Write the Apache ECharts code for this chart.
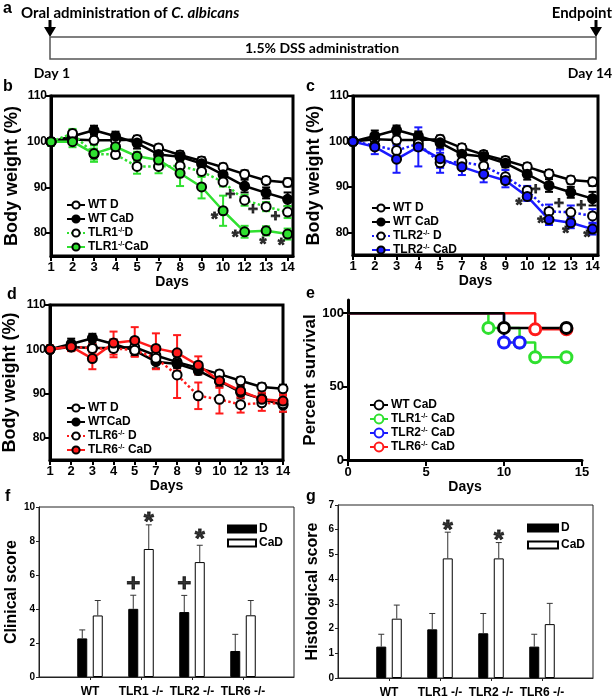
<!DOCTYPE html>
<html>
<head>
<meta charset="utf-8">
<script src="https://cdn.jsdelivr.net/npm/echarts@6/dist/echarts.min.js"></script>
<style>
  html, body { margin: 0; padding: 0; background: #fff; }
  #chart { width: 614px; height: 699px; }
</style>
</head>
<body>
<div id="chart"></div>
<script>
// body weight, days on x (b, c, d)
const days = [1, 2, 3, 4, 5, 7, 8, 9, 10, 12, 13, 14]
const wtD = [100, 100.5, 100.3, 100.3, 100.5, 98.6, 97.1, 95.8, 94.4, 92.9, 91.5, 91.1]
const wtDErr = [0.8, 0.8, 0.8, 0.8, 0.8, 0.8, 0.8, 0.8, 0.8, 0.8, 0.8, 0.9]
const wtCaD = [100, 101.2, 102.5, 101.2, 99.7, 97.2, 96.7, 95.2, 92.8, 90.3, 88.8, 87.4]
const wtCaDErr = [0.8, 1.2, 1.0, 1.0, 1.2, 1.5, 0.9, 0.9, 1.2, 1.4, 1.2, 1.5]
const tlr1D = [100, 101.8, 97.3, 97.2, 94.6, 94.6, 94.7, 93.5, 91.2, 87.2, 85.8, 84.6]
const tlr1DErr = [0.8, 1.0, 1.2, 0.8, 1.6, 1.5, 1.5, 1.2, 1.0, 1.2, 1.0, 1.3]
const tlr1CaD = [100, 100.0, 97.4, 98.9, 96.8, 96.0, 93.1, 90.1, 84.9, 80.3, 80.5, 79.8]
const tlr1CaDErr = [0.8, 1.2, 1.8, 1.0, 1.0, 1.5, 2.8, 2.5, 3.3, 1.3, 1.0, 1.2]
const tlr2D = [100, 99.1, 98.0, 99.5, 95.3, 95.5, 94.6, 92.2, 89.2, 84.6, 84.4, 83.6]
const tlr2DErr = [0.8, 1.0, 2.0, 1.5, 2.2, 1.5, 1.5, 1.5, 1.0, 1.5, 1.5, 1.5]
const tlr2CaD = [100, 98.8, 96.1, 98.8, 96.2, 94.4, 92.8, 91.4, 87.9, 82.8, 82.1, 80.7]
const tlr2CaDErr = [0.8, 1.6, 3.0, 4.3, 2.0, 1.8, 1.8, 1.5, 1.0, 1.2, 1.2, 1.2]
const tlr6D = [100, 100.6, 100.2, 100.2, 99.8, 98.0, 94.2, 89.5, 88.7, 87.5, 87.9, 87.7]
const tlr6DErr = [0.8, 1.0, 1.0, 2.0, 1.5, 2.5, 5.2, 3.0, 3.2, 1.8, 1.8, 1.8]
const tlr6CaD = [100, 100.6, 97.9, 101.4, 102.0, 100.2, 99.2, 96.4, 92.9, 90.6, 88.7, 88.3]
const tlr6CaDErr = [0.8, 1.0, 2.4, 2.6, 3.0, 3.4, 4.0, 2.0, 1.6, 1.5, 1.5, 1.5]
const weightTicks = [80, 90, 100, 110]

// significance marks, [day index, body weight]
const bStars = [[7.6, 83.8], [8.56, 79.8], [9.85, 78.3], [10.7, 78.0]]
const bPlus = [[8.33, 88.5], [9.39, 85.2], [10.43, 83.6]]
const cStars = [[7.62, 86.7], [8.62, 82.8], [9.77, 80.5], [10.74, 79.6]]
const cPlus = [[8.39, 89.5], [9.46, 86.4], [10.48, 85.9]]

// survival (e)
const survWTDays = [0, 10, 14], survWT = [100, 90, 90]
const survT1Days = [0, 9, 11, 12, 14], survT1 = [100, 90, 80, 70, 70]
const survT2Days = [0, 10, 11], survT2 = [100, 80, 80]
const survT6Days = [0, 12, 14], survT6 = [100, 89, 89]

// scores (f, g)
const scoreCats = ['WT', 'TLR1 -/-', 'TLR2 -/-', 'TLR6 -/-']
const clinD = [2.27, 4.01, 3.82, 1.53]
const clinDErr = [0.5, 0.8, 0.98, 0.98]
const clinCaD = [3.62, 7.53, 6.76, 3.63]
const clinCaDErr = [0.88, 1.42, 0.99, 0.87]
const clinPlus = [null, 5.45, 5.45, null]
const clinStar = [null, 9.45, 8.4, null]
const histD = [1.27, 1.97, 1.81, 1.27]
const histDErr = [0.5, 0.64, 0.8, 0.5]
const histCaD = [2.4, 4.84, 4.84, 2.18]
const histCaDErr = [0.55, 1.06, 0.64, 0.84]
const histStar = [null, 6.2, 5.8, null]

const FONT = '"Liberation Sans", Arial, sans-serif'
const colors = { green: '#2fe02f', blue: '#1a1aff', red: '#ff1a1a', black: '#000' }
const txt = (size) => ({ fontFamily: FONT, fontWeight: 'bold', fontSize: size, color: '#000' })

// grid / axis indices
const B = 0, C = 1, D = 2, E = 3, F = 4, G = 5

const series = []

const errBar = (params, api) => {
  const lo = api.coord([api.value(0), api.value(1)])
  const hi = api.coord([api.value(0), api.value(2)])
  const st = { stroke: api.visual('color'), lineWidth: 2 }
  return {
    type: 'group',
    children: [
      { type: 'line', shape: { x1: lo[0], y1: lo[1], x2: hi[0], y2: hi[1] }, style: st },
      { type: 'line', shape: { x1: lo[0] - 4, y1: lo[1], x2: lo[0] + 4, y2: lo[1] }, style: st },
      { type: 'line', shape: { x1: hi[0] - 4, y1: hi[1], x2: hi[0] + 4, y2: hi[1] }, style: st }
    ]
  }
}

const addWeight = (gi, name, vals, errs, color, open, dotted) => {
  series.push({
    type: 'custom', xAxisIndex: gi, yAxisIndex: gi, z: 2, silent: true,
    itemStyle: { color },
    renderItem: errBar,
    encode: { x: 0, y: [1, 2] },
    data: vals.map((v, i) => [i, v - errs[i], v + errs[i]])
  })
  series.push({
    type: 'line', name, xAxisIndex: gi, yAxisIndex: gi, z: 3,
    data: vals.map((v, i) => [i, v]),
    symbol: 'circle', symbolSize: 9,
    lineStyle: { color, width: 2.5, type: dotted ? 'dotted' : 'solid' },
    itemStyle: { color: open ? '#fff' : color, borderColor: '#000', borderWidth: 2 }
  })
}

const addMarks = (gi, pts, text, size, dx, dy) => {
  series.push({
    type: 'scatter', xAxisIndex: gi, yAxisIndex: gi, z: 5, silent: true,
    data: pts, symbolSize: 1, itemStyle: { color: 'rgba(0,0,0,0)' },
    label: {
      show: true, position: 'inside', formatter: text, offset: [dx, dy], ...txt(size),
      textBorderColor: '#000', textBorderWidth: 0.8
    }
  })
}

const addSurv = (name, xs, ys, color) => {
  series.push({
    type: 'line', name, xAxisIndex: E, yAxisIndex: E, step: 'end',
    symbol: 'circle', symbolSize: 11,
    data: xs.map((x, i) => ({ value: [x, ys[i]], symbol: i === 0 ? 'none' : 'circle' })),
    lineStyle: { color, width: 2.5 },
    itemStyle: { color: '#fff', borderColor: color, borderWidth: 3 }
  })
}

const whisker = (shift) => (params, api) => {
  const b = api.coord([api.value(0), api.value(1)])
  const t = api.coord([api.value(0), api.value(2)])
  const x = b[0] + shift
  const st = { stroke: '#333', lineWidth: 1 }
  return {
    type: 'group',
    children: [
      { type: 'line', shape: { x1: x, y1: b[1], x2: x, y2: t[1] }, style: st },
      { type: 'line', shape: { x1: x - 3, y1: t[1], x2: x + 3, y2: t[1] }, style: st }
    ]
  }
}

const addBars = (gi, name, vals, errs, filled, side) => {
  series.push({
    type: 'bar', name, xAxisIndex: gi, yAxisIndex: gi, barWidth: 10, barGap: '55%',
    data: vals.map((v, i) => [i + 1, v]),
    itemStyle: { color: filled ? '#000' : '#fff', borderColor: '#000', borderWidth: 1 }
  })
  series.push({
    type: 'custom', xAxisIndex: gi, yAxisIndex: gi, silent: true, z: 3,
    renderItem: whisker(side * 7.75),
    encode: { x: 0, y: [1, 2] },
    data: vals.map((v, i) => [i + 1, v, v + errs[i]])
  })
}

const scorePts = (arr) => arr.map((v, i) => (v == null ? null : [i + 1, v])).filter(Boolean)

// b
addWeight(B, 'b:WT D', wtD, wtDErr, colors.black, true, false)
addWeight(B, 'b:WT CaD', wtCaD, wtCaDErr, colors.black, false, false)
addWeight(B, 'b:TLR1{s|-/-}D', tlr1D, tlr1DErr, colors.green, true, true)
addWeight(B, 'b:TLR1{s|-/-}CaD', tlr1CaD, tlr1CaDErr, colors.green, false, false)
addMarks(B, bStars, '*', 18, 0, 4)
addMarks(B, bPlus, '+', 17, 0, 0)
// c
addWeight(C, 'c:WT D', wtD, wtDErr, colors.black, true, false)
addWeight(C, 'c:WT CaD', wtCaD, wtCaDErr, colors.black, false, false)
addWeight(C, 'c:TLR2{s|-/-} D', tlr2D, tlr2DErr, colors.blue, true, true)
addWeight(C, 'c:TLR2{s|-/-} CaD', tlr2CaD, tlr2CaDErr, colors.blue, false, false)
addMarks(C, cStars, '*', 18, 0, 4)
addMarks(C, cPlus, '+', 17, 0, 0)
// d
addWeight(D, 'd:WT D', wtD, wtDErr, colors.black, true, false)
addWeight(D, 'd:WTCaD', wtCaD, wtCaDErr, colors.black, false, false)
addWeight(D, 'd:TLR6{s|-/-} D', tlr6D, tlr6DErr, colors.red, true, true)
addWeight(D, 'd:TLR6{s|-/-} CaD', tlr6CaD, tlr6CaDErr, colors.red, false, false)
// e
addSurv('e:TLR1{s|-/-} CaD', survT1Days, survT1, colors.green)
addSurv('e:TLR2{s|-/-} CaD', survT2Days, survT2, colors.blue)
addSurv('e:TLR6{s|-/-} CaD', survT6Days, survT6, colors.red)
addSurv('e:WT CaD', survWTDays, survWT, colors.black)
// f
addBars(F, 'f:D', clinD, clinDErr, true, -1)
addBars(F, 'f:CaD', clinCaD, clinCaDErr, false, 1)
addMarks(F, scorePts(clinPlus), '+', 24, -7.75, 0)
addMarks(F, scorePts(clinStar), '*', 26, 7.75, 6)
// g
addBars(G, 'g:D', histD, histDErr, true, -1)
addBars(G, 'g:CaD', histCaD, histCaDErr, false, 1)
addMarks(G, scorePts(histStar), '*', 26, 7.75, 6)

const idx = days.map((d, i) => i)

const weightX = (gi, max, gap) => ({
  gridIndex: gi, type: 'value', min: 0, max,
  axisLine: { show: true, onZero: false, lineStyle: { color: '#000', width: 3 } },
  axisTick: { show: true, customValues: idx, length: 5, lineStyle: { color: '#000', width: 2 } },
  axisLabel: { customValues: idx, formatter: (v) => days[v], margin: 5, ...txt(13) },
  splitLine: { show: false },
  name: 'Days', nameLocation: 'middle', nameGap: gap, nameTextStyle: txt(14)
})
const weightY = (gi, gap) => ({
  gridIndex: gi, type: 'value', min: 75, max: 110,
  axisLine: { show: true, onZero: false, lineStyle: { color: '#000', width: 3 } },
  axisTick: { show: true, customValues: weightTicks, length: 5, lineStyle: { color: '#000', width: 2 } },
  axisLabel: { customValues: weightTicks, margin: 4, ...txt(12) },
  splitLine: { show: false },
  name: 'Body weight (%)', nameLocation: 'middle', nameGap: gap, nameTextStyle: txt(18)
})
const scoreX = (gi) => ({
  gridIndex: gi, type: 'value', min: 0, max: 5,
  axisLine: { show: true, onZero: false, lineStyle: { color: '#222', width: 1 } },
  axisTick: { show: true, customValues: [1, 2, 3, 4], length: 3, lineStyle: { color: '#222' } },
  axisLabel: { customValues: [1, 2, 3, 4], formatter: (v) => scoreCats[v - 1], margin: 9, ...txt(12) },
  splitLine: { show: false }
})
const scoreY = (gi, max, name, gap) => ({
  gridIndex: gi, type: 'value', min: 0, max, interval: max > 7 ? 2 : 1,
  axisLine: { show: true, lineStyle: { color: '#222', width: 1 } },
  axisTick: { show: true, length: 3, lineStyle: { color: '#222' } },
  axisLabel: { margin: 4, ...txt(10) },
  splitLine: { show: false },
  name, nameLocation: 'middle', nameGap: gap, nameTextStyle: txt(16)
})

const legendBase = (left, top) => ({
  orient: 'vertical', left, top, itemWidth: 18, itemHeight: 9, itemGap: 2,
  selectedMode: false,
  formatter: (name) => name.slice(2),
  textStyle: {
    ...txt(12), lineHeight: 12, padding: [0, 0, 0, -2],
    rich: { s: { fontFamily: FONT, fontWeight: 'bold', fontSize: 7, color: '#000', verticalAlign: 'top', lineHeight: 12 } }
  }
})

const panelLetter = (text, x, y) => ({
  type: 'text', x, y,
  style: { text, font: 'bold 16px ' + FONT, fill: '#000', textVerticalAlign: 'middle', verticalAlign: 'middle' }
})

const chart = echarts.init(document.getElementById('chart'))
chart.setOption({
  animation: false,
  backgroundColor: '#fff',
  grid: [
    { left: 51, top: 96, width: 242, height: 160, show: true, borderColor: '#000', borderWidth: 3 },
    { left: 353, top: 96, width: 245, height: 159, show: true, borderColor: '#000', borderWidth: 3 },
    { left: 50, top: 305, width: 233, height: 155, show: true, borderColor: '#000', borderWidth: 3 },
    { left: 348, top: 300, width: 234, height: 160 },
    { left: 39, top: 507, width: 255, height: 170, show: true, borderColor: '#222', borderWidth: 1 },
    { left: 338, top: 505, width: 255, height: 174, show: true, borderColor: '#222', borderWidth: 1 }
  ],
  xAxis: [
    weightX(B, 11.25, 18),
    weightX(C, 11.25, 18),
    weightX(D, 11, 17),
    {
      gridIndex: E, type: 'value', min: 0, max: 15, interval: 5,
      axisLine: { show: true, onZero: false, lineStyle: { color: '#000', width: 3 } },
      axisTick: { show: true, length: 6, lineStyle: { color: '#000', width: 2 } },
      axisLabel: { margin: 6, ...txt(13) },
      splitLine: { show: false },
      name: 'Days', nameLocation: 'middle', nameGap: 15, nameTextStyle: txt(14)
    },
    scoreX(F),
    scoreX(G)
  ],
  yAxis: [
    weightY(B, 30),
    weightY(C, 30),
    weightY(D, 31),
    {
      gridIndex: E, type: 'value', min: 0, max: 109,
      axisLine: { show: true, lineStyle: { color: '#000', width: 3 } },
      axisTick: { show: true, customValues: [0, 50, 100], length: 6, lineStyle: { color: '#000', width: 2 } },
      axisLabel: { customValues: [0, 50, 100], margin: 4, ...txt(13) },
      splitLine: { show: false },
      name: 'Percent survival', nameLocation: 'middle', nameGap: 26, nameTextStyle: txt(17)
    },
    scoreY(F, 10, 'Clinical score', 16),
    scoreY(G, 7, 'Histological score', 17)
  ],
  legend: [
    { ...legendBase(61, 194), data: ['b:WT D', 'b:WT CaD', 'b:TLR1{s|-/-}D', 'b:TLR1{s|-/-}CaD'] },
    { ...legendBase(366, 197), data: ['c:WT D', 'c:WT CaD', 'c:TLR2{s|-/-} D', 'c:TLR2{s|-/-} CaD'] },
    { ...legendBase(61, 397), data: ['d:WT D', 'd:WTCaD', 'd:TLR6{s|-/-} D', 'd:TLR6{s|-/-} CaD'] },
    { ...legendBase(364, 394), itemHeight: 11, data: ['e:WT CaD', 'e:TLR1{s|-/-} CaD', 'e:TLR2{s|-/-} CaD', 'e:TLR6{s|-/-} CaD'] },
    { ...legendBase(222, 518), itemWidth: 28, itemHeight: 7, itemGap: 2, icon: 'rect', data: ['f:D', 'f:CaD'] },
    { ...legendBase(522, 517), itemWidth: 30, itemHeight: 7, itemGap: 5, icon: 'rect', data: ['g:D', 'g:CaD'] }
  ],
  graphic: [
    panelLetter('a', 3, 9),
    panelLetter('b', 3, 87),
    panelLetter('c', 306, 87),
    panelLetter('d', 7, 295),
    panelLetter('e', 306, 294),
    panelLetter('f', 5, 497),
    panelLetter('g', 306, 497),
    {
      type: 'text', x: 21, y: 13,
      style: {
        text: 'Oral administration of {i|C. albicans}',
        font: 'bold 15px Lato, ' + FONT, fill: '#000', textVerticalAlign: 'middle', verticalAlign: 'middle',
        rich: { i: { fontFamily: 'Lato', fontWeight: 'bold', fontStyle: 'italic', fontSize: 15, fill: '#000', color: '#000' } }
      }
    },
    {
      type: 'text', x: 612, y: 13,
      style: { text: 'Endpoint', font: 'bold 15px Lato, ' + FONT, fill: '#000', textAlign: 'right', align: 'right', textVerticalAlign: 'middle', verticalAlign: 'middle' }
    },
    { type: 'polyline', shape: { points: [[50, 20], [50, 30]] }, style: { stroke: '#000', lineWidth: 3 } },
    { type: 'polygon', shape: { points: [[44, 27], [56, 27], [50, 37]] }, style: { fill: '#000' } },
    { type: 'polyline', shape: { points: [[596, 20], [596, 30]] }, style: { stroke: '#000', lineWidth: 3 } },
    { type: 'polygon', shape: { points: [[590, 27], [602, 27], [596, 37]] }, style: { fill: '#000' } },
    { type: 'rect', shape: { x: 50, y: 37, width: 546, height: 22 }, style: { fill: '#fff', stroke: '#555', lineWidth: 1.5 } },
    {
      type: 'text', x: 322, y: 48,
      style: { text: '1.5% DSS administration', font: 'bold 14px Lato, ' + FONT, fill: '#000', textAlign: 'center', align: 'center', textVerticalAlign: 'middle', verticalAlign: 'middle' }
    },
    {
      type: 'text', x: 52, y: 73,
      style: { text: 'Day 1', font: 'bold 14px Lato, ' + FONT, fill: '#000', textAlign: 'center', align: 'center', textVerticalAlign: 'middle', verticalAlign: 'middle' }
    },
    {
      type: 'text', x: 590, y: 73,
      style: { text: 'Day 14', font: 'bold 14px Lato, ' + FONT, fill: '#000', textAlign: 'center', align: 'center', textVerticalAlign: 'middle', verticalAlign: 'middle' }
    }
  ],
  series
})
</script>
</body>
</html>
